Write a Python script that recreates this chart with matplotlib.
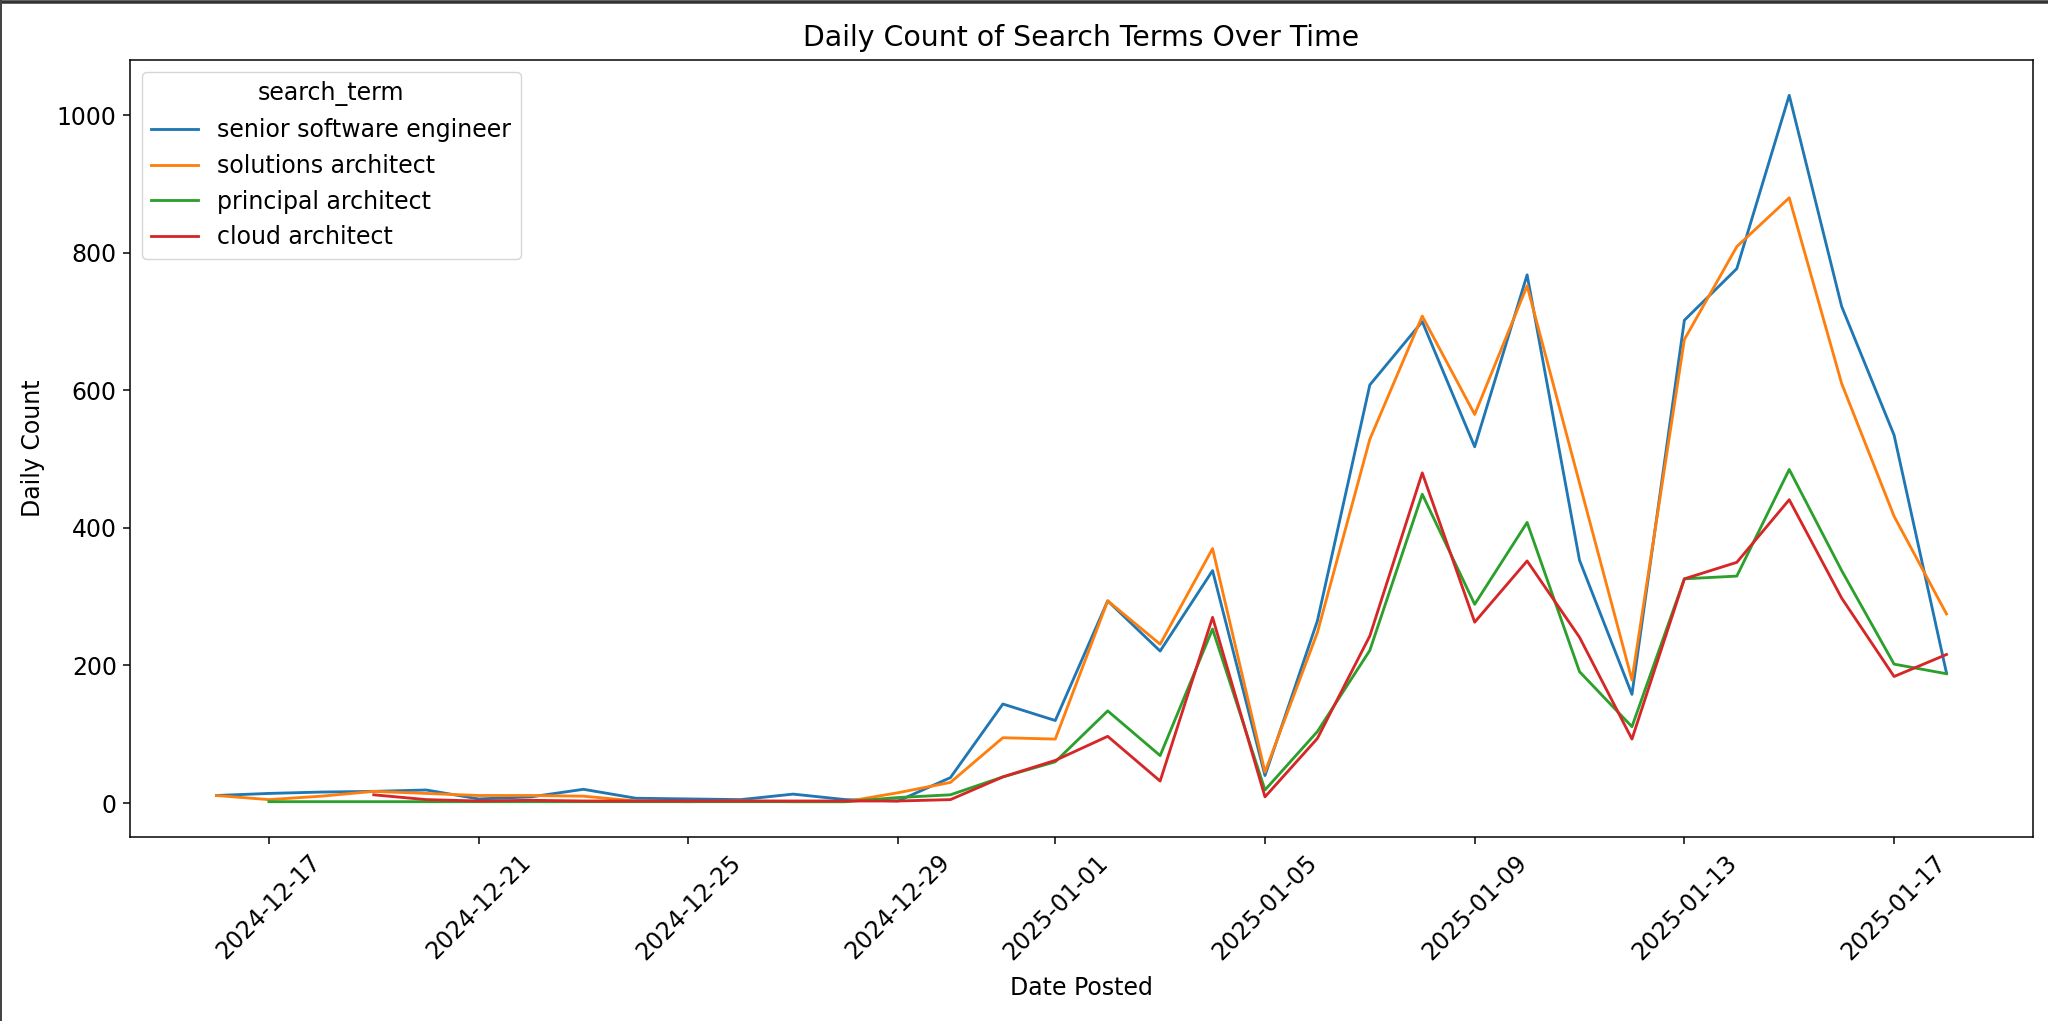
import numpy as np
import pandas as pd
import matplotlib
matplotlib.use("Agg")
import matplotlib.pyplot as plt
import matplotlib.dates as mdates
from matplotlib.lines import Line2D

dates = pd.date_range("2024-12-16", "2025-01-18", freq="D")
nan = np.nan

senior_software_engineer = [11, 14, 16, 17, 19, 6, 9, 20, 7, 6, 5, 13, 5, 3,
                            37, 144, 120, 294, 221, 338, 40, 265, 608, 700, 518, 768,
                            353, 158, 702, 777, 1029, 722, 535, 189]
solutions_architect = [11, 5, 10, 17, 14, 11, 11, 10, 3, 2, 3, 2, 2, 15,
                       30, 95, 93, 294, 231, 370, 45, 248, 529, 708, 565, 752,
                       465, 179, 674, 809, 880, 610, 417, 275]
principal_architect = [nan, 2, 2, 2, 2, 2, 2, 2, 2, 2, 2, 2, 2, 8,
                       12, 38, 60, 134, 69, 253, 19, 104, 222, 449, 289, 408,
                       191, 111, 326, 330, 485, 338, 202, 188]
cloud_architect = [nan, nan, nan, 12, 5, 3, 4, 3, 3, 3, 3, 3, 3, 3,
                   5, 38, 62, 97, 32, 270, 9, 94, 243, 480, 263, 352,
                   241, 93, 326, 350, 441, 298, 184, 216]

series = {
    "senior software engineer": senior_software_engineer,
    "solutions architect": solutions_architect,
    "principal architect": principal_architect,
    "cloud architect": cloud_architect,
}
colors = ["#1f77b4", "#ff7f0e", "#2ca02c", "#d62728"]

S = 1.36   # geometry scale
F = 1.7    # font scale
plt.rcParams["font.family"] = ["DejaVu Sans"]

fig = plt.figure(figsize=(20.48, 10.21), dpi=100)
ax = fig.add_axes([130 / 2048, 1 - 837 / 1021, (2033 - 130) / 2048, (837 - 60) / 1021])

for (name, vals), c in zip(series.items(), colors):
    ax.plot(dates, vals, color=c, lw=1.5 * S, label=name)

ax.xaxis.set_major_locator(mdates.DayLocator(bymonthday=[1, 5, 9, 13, 17, 21, 25, 29]))
ax.xaxis.set_major_formatter(mdates.DateFormatter("%Y-%m-%d"))
for lab in ax.get_xticklabels():
    lab.set_rotation(45)
ax.tick_params(labelsize=10 * F, width=0.8 * S, length=3.5 * S, pad=3.5 * S)
for sp in ax.spines.values():
    sp.set_linewidth(0.8 * S)

ax.set_title("Daily Count of Search Terms Over Time", fontsize=12 * F, pad=6 * F)
ax.set_xlabel("Date Posted", fontsize=10 * F, labelpad=4 * S + 3)
ax.set_ylabel("Daily Count", fontsize=10 * F, labelpad=4 * S + 3)

leg = ax.legend(title="search_term", loc="upper left", fontsize=10 * F,
                title_fontsize=10 * F)
for l in leg.get_lines():
    l.set_linewidth(1.5 * S)

# screenshot frame
fig.add_artist(Line2D([0, 1], [1 - 1.75 / 1021, 1 - 1.75 / 1021], transform=fig.transFigure,
                      color="#333333", lw=3.5 * 0.72))
fig.add_artist(Line2D([1 / 2048, 1 / 2048], [0, 1], transform=fig.transFigure,
                      color="#444444", lw=2 * 0.72))
fig.add_artist(Line2D([0, 1], [0.5 / 1021, 0.5 / 1021], transform=fig.transFigure,
                      color="#777777", lw=1 * 0.72))

fig.savefig("out.png", dpi=100)
